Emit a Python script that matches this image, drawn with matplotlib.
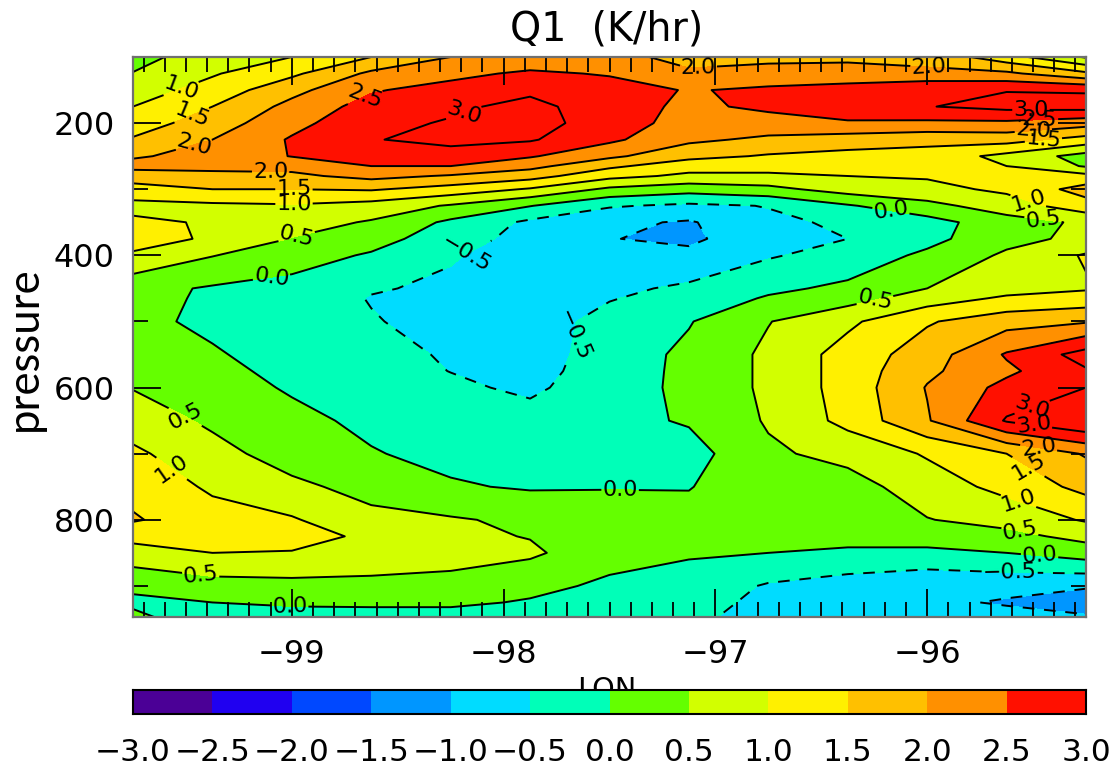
import numpy as np
import matplotlib
matplotlib.use("Agg")
import matplotlib.pyplot as plt
from matplotlib.ticker import MultipleLocator, FixedLocator

# ---- data: Q1, one list per longitude ----
lon = [-99.75, -99.375, -99.0, -98.625, -98.25, -97.875, -97.5, -97.125, -96.75, -96.375, -96.0, -95.625, -95.25]
pressure = [100, 125, 150, 175, 200, 225, 250, 265, 280, 300, 325, 350, 375, 400, 450, 465, 500, 550, 575, 600,
            650, 700, 750, 800, 825, 850, 900, 925, 950]
q_a = [.3, .52, .75, 1.0, 1.25, 1.55, 1.95, 2.15, 1.75, 1.3, .85, 1.1, 1.15, .95, .15, .15, .12, .2, .3, .48, .75, 1.1, 1.35, 1.55, 1.15, .8, .1, -.1, .15]
q_b = [.8, .95, 1.2, 1.5, 1.75, 2.0, 2.15, 2.1, 1.9, 1.5, .9, .95, .95, .52, -.05, -.07, -.1, .05, .12, .2, .42, .65, .92, 1.2, 1.15, 1.0, .3, 0, -.3]
q_c = [1.0, 1.4, 1.85, 2.15, 2.35, 2.55, 2.52, 2.15, 1.9, 1.5, .95, .72, .48, .2, -.15, -.18, -.25, -.2, -.12, -.05, .12, .3, .6, 1.05, 1.2, .97, .35, .08, -.25]
q_d = [1.5, 2.1, 2.45, 2.7, 2.85, 2.98, 2.7, 2.5, 2.15, 1.55, .8, .45, .18, -.05, -.45, -.53, -.46, -.35, -.28, -.2, -.1, .03, .35, .62, .9, .68, .42, .1, -.25]
q_e = [2.0, 2.35, 2.7, 2.9, 3.05, 3.1, 2.85, 2.5, 1.95, 1.3, .45, -.1, -.25, -.45, -.6, -.63, -.7, -.55, -.51, -.4, -.25, -.13, .05, .55, .6, .62, .4, .1, -.25]
q_f = [2.1, 2.6, 2.9, 3.15, 3.2, 3.05, 2.55, 2.15, 1.7, .95, .02, -.6, -.7, -.75, -.8, -.82, -.75, -.75, -.7, -.6, -.3, -.2, -.05, .4, .48, .58, .15, -.05, -.3]
q_g = [2.1, 2.45, 2.75, 2.72, 2.75, 2.6, 2.1, 1.6, 1.15, .4, -.45, -.9, -.98, -.85, -.6, -.53, -.32, -.25, -.22, -.2, -.15, -.1, -.02, .2, .22, .2, -.1, -.2, -.4]
q_h = [1.9, 2.05, 2.46, 2.4, 2.3, 2.1, 1.65, 1.2, .9, .2, -.6, -1.05, -1.12, -.85, -.42, -.3, -.03, .1, .1, .1, .05, -.2, -.02, .15, .12, .05, -.2, -.35, -.45]
q_i = [1.9, 2.15, 2.6, 2.6, 2.3, 1.9, 1.45, 1.2, .9, .35, -.48, -.6, -.6, -.55, -.1, .05, .48, .6, .6, .6, .55, .42, .3, .2, .12, 0, -.55, -.6, -.6]
q_j = [1.9, 2.2, 2.7, 2.75, 2.45, 1.75, 1.35, 1.2, 1.0, .72, -.05, -.42, -.5, -.3, .1, .3, .9, 1.2, 1.2, 1.2, 1.15, .65, .3, .25, .1, -.05, -.75, -.8, -.8]
q_k = [1.85, 2.1, 2.98, 2.98, 2.4, 1.65, 1.3, 1.2, 1.05, .85, .35, -.2, -.15, .1, .5, .75, 1.45, 1.75, 1.9, 2.03, 1.95, 1.05, .75, .48, .2, -.1, -.9, -.9, -.9]
q_l = [1.2, 2.1, 2.98, 3.15, 2.4, 1.7, .85, 1.0, 1.15, 1.1, .75, .3, .35, .58, .8, 1.08, 1.8, 2.55, 2.4, 2.65, 3.05, 1.5, 1.15, .68, .35, 0, -.85, -1.05, -.8]
q_m = [.45, 1.6, 2.95, 3.2, 2.2, 1.3, .3, .45, 1.15, 1.7, 1.3, .58, .62, 1.05, .95, 1.2, 1.95, 3.2, 2.95, 3.0, 3.5, 2.05, 1.65, 1.05, .65, .25, -.95, -1.25, -.9]

levels = [-3.0, -2.5, -2.0, -1.5, -1.0, -0.5, 0.0, 0.5, 1.0, 1.5, 2.0, 2.5, 3.0]
colors = ['#4B0096', '#2000F0', '#0048FF', '#0096FF', '#00DCFF', '#00FFB8',
          '#64FF00', '#D2FF00', '#FFF000', '#FFC000', '#FF9000', '#FF1000']
label_spots = [(-99.54, 133), (-99.48, 182), (-99.46, 236), (-98.66, 156), (-98.19, 183), (-97.08, 118),
               (-95.99, 106), (-99.10, 273), (-98.99, 297), (-98.99, 320), (-98.98, 368), (-99.10, 424),
               (-98.16, 409), (-97.71, 519), (-96.17, 330), (-95.52, 315), (-95.45, 338), (-96.25, 463),
               (-95.51, 176), (-95.47, 191), (-95.50, 206), (-95.45, 229), (-95.53, 607), (-95.50, 663),
               (-95.47, 683), (-95.50, 708), (-95.57, 773), (-95.56, 814), (-95.47, 857), (-95.61, 872),
               (-97.45, 757), (-99.49, 636), (-99.61, 742), (-99.43, 882), (-99.01, 929)]

Q = np.column_stack([q_a, q_b, q_c, q_d, q_e, q_f, q_g, q_h, q_i, q_j, q_k, q_l, q_m])

W, H = 1113, 766
plt.rcParams['font.family'] = ['DejaVu Sans']
plt.rcParams['contour.negative_linestyle'] = (0, (6, 5))
fig = plt.figure(figsize=(W / 100, H / 100), dpi=100, facecolor='white')


def box(x0, y0, x1, y1):
    return [x0 / W, 1 - y1 / H, (x1 - x0) / W, (y1 - y0) / H]


ax = fig.add_axes(box(133, 57, 1086, 617))
ax.contourf(lon, pressure, Q, levels=levels + [99.0], colors=colors + [colors[-1]])
cs = ax.contour(lon, pressure, Q, levels=levels, colors='black', linewidths=1.4)
ax.clabel(cs, manual=label_spots, fontsize=16, inline=True, inline_spacing=1,
          fmt=lambda v: f'{v:.1f}'.replace('-', '\u2212'))

ax.set_xlim(-99.75, -95.25)
ax.set_ylim(947, 100)
ax.xaxis.set_major_locator(FixedLocator([-99, -98, -97, -96]))
ax.xaxis.set_minor_locator(MultipleLocator(0.1))
ax.yaxis.set_major_locator(FixedLocator([200, 400, 600, 800]))
ax.yaxis.set_minor_locator(FixedLocator([100, 300, 500, 700, 900]))
ax.tick_params(which='major', direction='in', top=True, right=True, length=20, width=1.3, color='black',
               labelsize=23)
ax.tick_params(which='minor', direction='in', top=True, right=True, length=11, width=1.3, color='black')
ax.tick_params(axis='x', which='major', pad=16)
ax.tick_params(axis='y', which='major', pad=13)
ax.set_xticklabels(['\u221299', '\u221298', '\u221297', '\u221296'])
for s in ax.spines.values():
    s.set_color('#707070')
    s.set_linewidth(1.6)

fig.text(607 / W, 1 - 29 / H, 'Q1  (K/hr)', ha='center', va='center', fontsize=28.5)
fig.text(24 / W, 1 - 349 / H, 'pressure', rotation=90, ha='center', va='center', fontsize=31.5, family='Lato')
fig.text(607 / W, 1 - 690 / H, 'LON', ha='center', va='center', fontsize=20.7)

cax = fig.add_axes(box(133, 690, 1086, 714))
cax.set_zorder(5)
cax.pcolormesh(levels, [0, 1], np.array([levels[:-1]]) + 0.25,
               cmap=matplotlib.colors.ListedColormap(colors),
               norm=matplotlib.colors.BoundaryNorm(levels, len(colors)))
cax.set_xlim(-3, 3)
cax.set_ylim(0, 1)
cax.set_yticks([])
cax.set_xticks(levels)
cax.set_xticklabels([f'{v:.1f}'.replace('-', '\u2212') for v in levels])
cax.tick_params(axis='x', length=0, pad=17, labelsize=22.5)
for s in cax.spines.values():
    s.set_color('black')
    s.set_linewidth(1.5)

fig.savefig('out.png', dpi=100)
